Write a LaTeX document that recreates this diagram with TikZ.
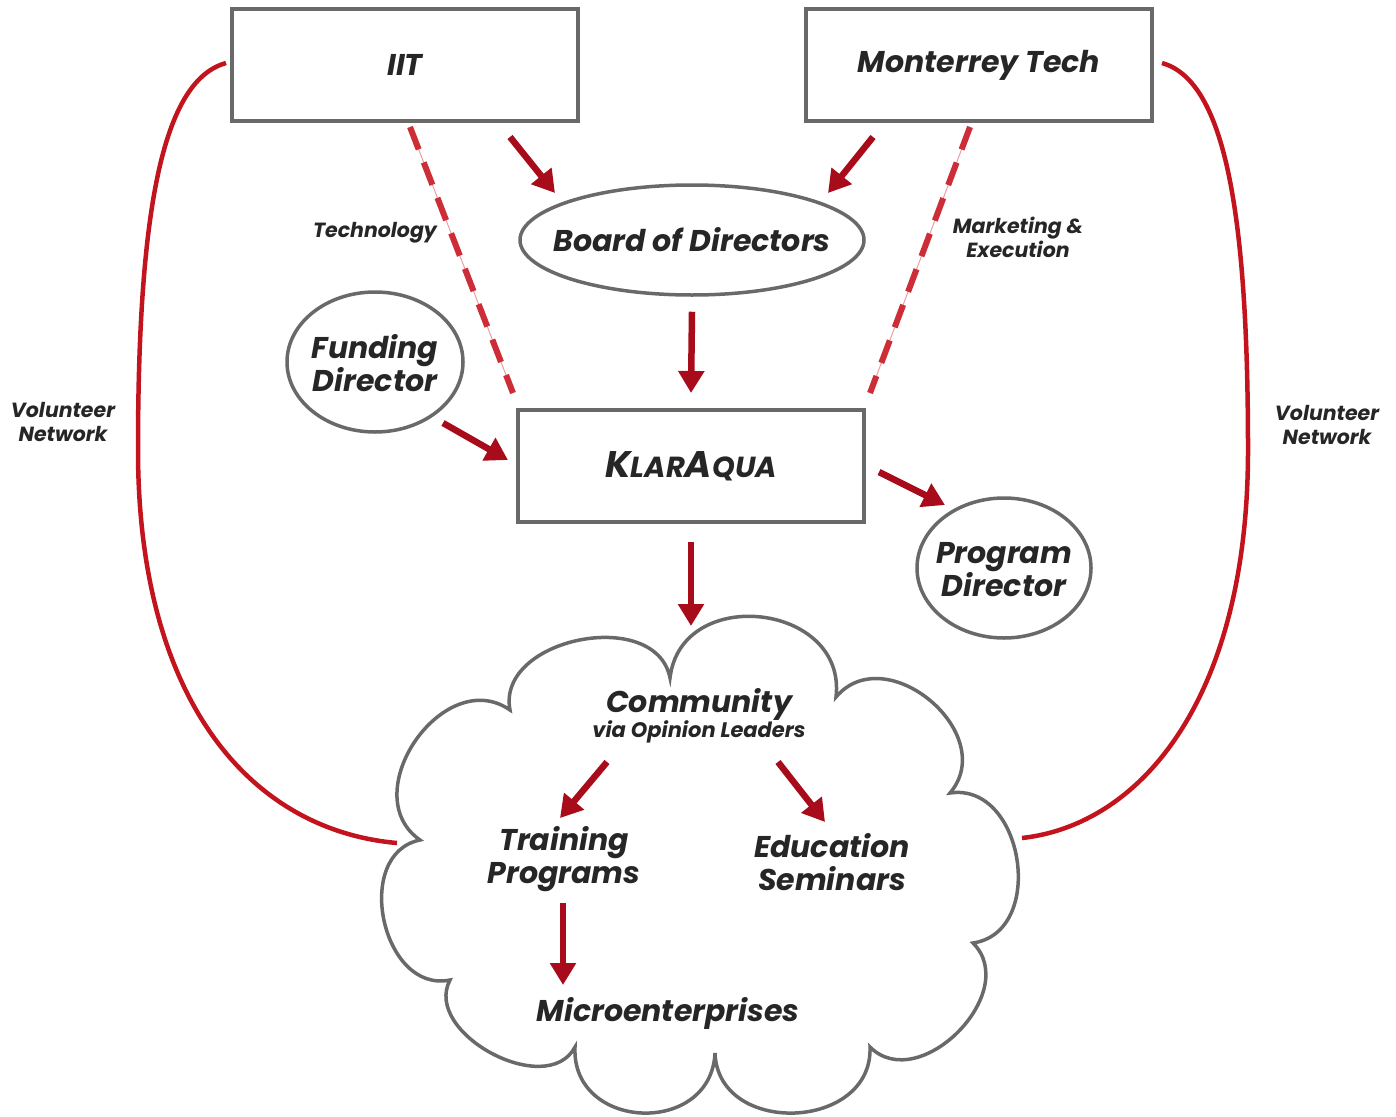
\documentclass[tikz,border=0pt]{standalone}
\usepackage{fontspec}
\setmainfont{Poppins}
\usetikzlibrary{arrows.meta,calc,shapes.geometric}
\definecolor{darkred}{RGB}{168,12,26}
\definecolor{dashred}{RGB}{205,45,55}
\definecolor{curvered}{RGB}{195,20,30}
\definecolor{edgegray}{RGB}{105,105,105}
\definecolor{txt}{RGB}{38,38,38}
\begin{document}
\begin{tikzpicture}[x=1pt,y=-1pt,
  every node/.style={font=\bfseries\itshape\fontsize{30}{33}\selectfont, text=txt},
  boxnode/.style={draw=edgegray, line width=4pt, minimum width=346pt, minimum height=112pt, inner sep=0pt, fill=white},
  ellnode/.style={draw=edgegray, line width=3.5pt, ellipse, inner sep=0pt, fill=white},
  small/.style={font=\bfseries\itshape\fontsize{20.5}{24}\selectfont, align=center},
  inner/.style={align=center},
  arr/.style={draw=darkred, line width=6.5pt, -{Triangle[length=22pt,width=25pt]}},
  dashln/.style={draw=dashred, line width=6pt, dash pattern=on 24pt off 14pt},
  thinln/.style={draw=dashred!45, line width=1pt},
  volln/.style={draw=curvered, line width=4.5pt},
  cloudln/.style={draw=edgegray, line width=3.5pt, fill=white}
]
\useasboundingbox (0,0) rectangle (1396,1116);

% cloud
\draw[cloudln] (670,678) .. controls (681,584) and (847,603) .. (836,697)
  .. controls (886,638) and (1000,734) .. (950,793)
  .. controls (1024,782) and (1047,932) .. (973,943)
  .. controls (1022,992) and (919,1096) .. (870,1047)
  .. controls (873,1131) and (718,1137) .. (715,1053)
  .. controls (711,1137) and (571,1131) .. (575,1047)
  .. controls (547,1100) and (422,1033) .. (450,980)
  .. controls (382,994) and (352,854) .. (420,840)
  .. controls (354,794) and (444,664) .. (510,710)
  .. controls (496,638) and (656,606) .. (670,678) -- cycle;
\coordinate (cloudtop) at (691,626);
\coordinate (cloudL) at (397,843);
\coordinate (cloudR) at (1022,838);

% nodes
\node[boxnode] (iit) at (405,65) {IIT};
\node[boxnode] (mt) at (979,65) {Monterrey Tech};
\node[ellnode, minimum width=344pt, minimum height=110pt] (board) at (692,240) {\makebox[0pt]{Board of Directors}};
\node[boxnode] (klar) at (691,466) {{\fontsize{37}{37}\selectfont K}{\fontsize{29}{29}\selectfont LAR}{\fontsize{37}{37}\selectfont A}{\fontsize{29}{29}\selectfont QUA}};
\node[ellnode, minimum width=176pt, minimum height=140pt] (fund) at (375,362) {\makebox[0pt]{\raisebox{-12pt}[0pt][0pt]{\begin{tabular}{@{}c@{}}Funding\\[-1pt]Director\end{tabular}}}};
\node[ellnode, minimum width=174pt, minimum height=140pt] (prog) at (1004,568) {\makebox[0pt]{\raisebox{-12pt}[0pt][0pt]{\begin{tabular}{@{}c@{}}Program\\[-1pt]Director\end{tabular}}}};

\node[inner] (comm) at (699,716) {Community\\[-8pt]{\fontsize{21}{21}\selectfont via Opinion Leaders}};
\node[inner] (train) at (564,859) {Training\\Programs};
\node[inner] (edu) at (832,862) {Education\\Seminars};
\node (micro) at (668,1013) {Microenterprises};

\node[small] (tech) at (375,233) {Technology};
\node[small] (mkt) at (1018,237) {Marketing \&\\Execution};
\node[small] (voll) at (63,422) {Volunteer\\Network};
\node[small] (volr) at (1327,425) {Volunteer\\Network};

% dashed links
\draw[thinln] ($(iit.south)+(5,4)$) -- ($(klar.north west)+(-3,-15)$);
\draw[dashln] ($(iit.south)+(5,4)$) -- ($(klar.north west)+(-3,-15)$);
\draw[thinln] ($(mt.south)+(-9,4)$) -- ($(klar.north east)+(4,-15)$);
\draw[dashln] ($(mt.south)+(-9,4)$) -- ($(klar.north east)+(4,-15)$);

% volunteer network curves
\draw[volln] ($(iit.west)+(-4,-2)$) .. controls (165,80) and (138,200) .. (138,450)
  .. controls (138,700) and (250,830) .. (cloudL);
\draw[volln] ($(mt.east)+(8,-2)$) .. controls (1222,80) and (1248,200) .. (1248,450)
  .. controls (1248,700) and (1140,825) .. (cloudR);

% arrows
\draw[arr] ($(iit.south)+(105,14)$) -- ($(board.center)+(-137,-47)$);
\draw[arr] ($(mt.south)+(-106,14)$) -- ($(board.center)+(136,-47)$);
\draw[arr] ($(board.south)+(0,15)$) -- ($(klar.north)+(0,-15)$);
\draw[arr] ($(fund.center)+(68,61)$) -- ($(klar.west)+(-8,-6)$);
\draw[arr] ($(klar.east)+(13,6)$) -- ($(prog.center)+(-59,-63)$);
\draw[arr] ($(klar.south)+(0,18)$) -- (cloudtop);
\draw[arr] ($(comm.center)+(-92,46)$) -- ($(train.center)+(-4,-41)$);
\draw[arr] ($(comm.center)+(79,46)$) -- ($(edu.center)+(-7,-40)$);
\draw[arr] ($(train.center)+(-1,44)$) -- ($(micro.center)+(-105,-28)$);
\end{tikzpicture}
\end{document}
